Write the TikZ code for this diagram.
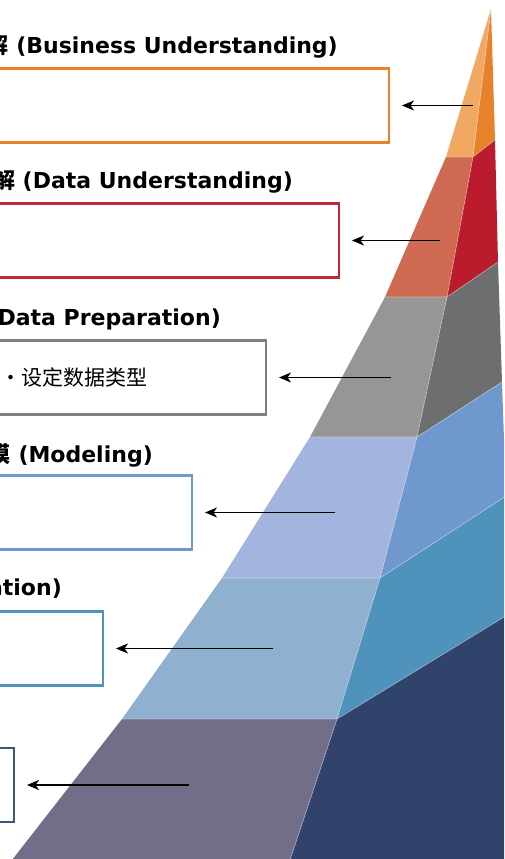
\documentclass[tikz,border=0pt]{standalone}
\usepackage{fontspec}
\setmainfont{DejaVu Sans}
\newfontfamily\cjk{Noto Sans CJK SC}
\usetikzlibrary{positioning, calc, arrows.meta}
\definecolor{orangeA}{HTML}{F1A862}
\definecolor{orangeB}{HTML}{E8822A}
\definecolor{redA}{HTML}{CD6A51}
\definecolor{redB}{HTML}{BA1C2D}
\definecolor{greyA}{HTML}{979694}
\definecolor{greyB}{HTML}{6D6E70}
\definecolor{blueA}{HTML}{A3B5DF}
\definecolor{blueB}{HTML}{6E98CE}
\definecolor{tealA}{HTML}{8FB0CF}
\definecolor{tealB}{HTML}{4F92BC}
\definecolor{navyA}{HTML}{726E8A}
\definecolor{navyB}{HTML}{30446B}
\definecolor{boxRed}{HTML}{C0283A}
\definecolor{boxGrey}{HTML}{7F7F7F}
\definecolor{boxNavy}{HTML}{3E5580}
\tikzstyle{Arrow} = [
line width=1.9pt,
-{Stealth[length=12pt,width=10pt,inset=3.5pt]},
shorten >= 12pt]
\tikzstyle{Box} = [draw, line width=2.3pt, fill=white, minimum width=480pt,
minimum height=74pt, anchor=east, inner sep=0pt]
\tikzstyle{Title} = [anchor=base east, inner sep=0pt,
font=\fontsize{22}{26}\selectfont\bfseries]
\tikzstyle{Edge} = [white, opacity=.4, line width=.7pt]

\begin{document}
\begin{tikzpicture}[x=1pt, y=-1pt]
    \useasboundingbox (0,0) rectangle (504,859);
    \clip (0,0) rectangle (504,859);
    % pyramid corners
    \coordinate (L0) at (491,9);
    \coordinate (L1) at (446,157);
    \coordinate (L2) at (385,297);
    \coordinate (L3) at (310,437);
    \coordinate (L4) at (222,578);
    \coordinate (L5) at (122,719);
    \coordinate (L6) at (5,869);
    \coordinate (M1) at (473,157);
    \coordinate (M2) at (447,297);
    \coordinate (M3) at (417,437);
    \coordinate (M4) at (380,578);
    \coordinate (M5) at (337,719);
    \coordinate (M6) at (287,869);
    \coordinate (N1) at (495,140);
    \coordinate (N2) at (498,262);
    \coordinate (N3) at (502,382);
    \coordinate (N4) at (506,496);
    \coordinate (N5) at (509,614);
    \coordinate (N6) at (514,715);
    \coordinate (N7) at (530,870);
    % front face
    \fill[orangeA] (L0) -- (L1) -- (M1) -- cycle;
    \fill[redA] (L1) -- (L2) -- (M2) -- (M1) -- cycle;
    \fill[greyA] (L2) -- (L3) -- (M3) -- (M2) -- cycle;
    \fill[blueA] (L3) -- (L4) -- (M4) -- (M3) -- cycle;
    \fill[tealA] (L4) -- (L5) -- (M5) -- (M4) -- cycle;
    \fill[navyA] (L5) -- (L6) -- (M6) -- (M5) -- cycle;
    % right face
    \fill[orangeB] (L0) -- (M1) -- (N1) -- cycle;
    \fill[redB] (M1) -- (M2) -- (N2) -- (N1) -- cycle;
    \fill[greyB] (M2) -- (M3) -- (N3) -- (N2) -- cycle;
    \fill[blueB] (M3) -- (M4) -- (N4) -- (N3) -- cycle;
    \fill[tealB] (M4) -- (M5) -- (N5) -- (N4) -- cycle;
    \fill[navyB] (M5) -- (M6) -- (N7) -- (N6) -- (N5) -- cycle;
    \draw[Edge] (L0) -- (M1) -- (M2) -- (M3) -- (M4) -- (M5) -- (M6);
    \foreach \i in {1,...,5} {
        \draw[Edge] (L\i) -- (M\i) -- (N\i);
    }

    % boxes
    \node[Box, draw=orangeB] (b1) at (390,105.5) {};
    \node[Box, draw=boxRed] (b2) at (340,240.5) {};
    \node[Box, draw=boxGrey] (b3) at (267,377.5) {};
    \node[Box, draw=blueB] (b4) at (193,512.5) {};
    \node[Box, draw=tealB] (b5) at (104,648.5) {};
    \node[Box, draw=boxNavy] (b6) at (15,785) {};
    \node[anchor=west, inner sep=0pt, font=\fontsize{21}{25}\selectfont\cjk]
        (t3) at (0,377) {・设定数据类型};

    % titles
    \node[Title] (h1) at (338,53) {{\cjk 解} (Business Understanding)};
    \node[Title] (h2) at (293,188) {{\cjk 解} (Data Understanding)};
    \node[Title] (h3) at (221,325) {Data Preparation)};
    \node[Title] (h4) at (153,462) {{\cjk 模} (Modeling)};
    \node[Title] (h5) at (62,595) {ation)};

    % arrows
    \coordinate (p1) at (473,105.5);
    \coordinate (p2) at (440,240.5);
    \coordinate (p3) at (391,377.5);
    \coordinate (p4) at (335,512.5);
    \coordinate (p5) at (273,648.5);
    \coordinate (p6) at (189,785);
    \foreach \i in {1,...,6} {
        \draw[Arrow] (p\i) -- (b\i.east);
    }
\end{tikzpicture}
\end{document}
